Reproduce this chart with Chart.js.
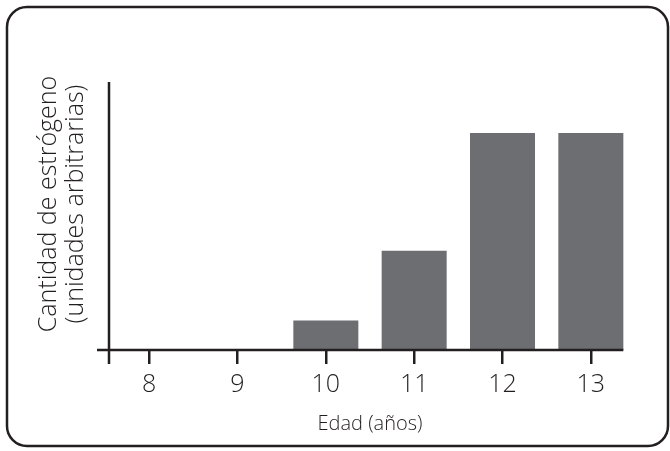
<!DOCTYPE html>
<html>
<head>
<meta charset="utf-8">
<script src="https://cdn.jsdelivr.net/npm/chart.js@4"></script>
<style>
html,body{margin:0;padding:0;background:#fff;}
#wrap{width:670px;height:451px;}
</style>
</head>
<body>
<div id="wrap"><canvas id="c"></canvas></div>
<script>
const edades=["8","9","10","11","12","13"];
const estrogeno=[0,0,11,37,81,81];
const yLabel=["Cantidad de estrógeno","(unidades arbitrarias)"];
const xLabel="Edad (años)";

const ink="#231f20";
const barColor="#6d6e71";

// frame, axis lines and rotated y title
const decor={
id:"decor",
afterDraw(chart){
const ctx=chart.ctx;
const a=chart.chartArea;
const meta=chart.getDatasetMeta(0);
const last=meta.data[meta.data.length-1];
ctx.save();
ctx.strokeStyle=ink;
ctx.lineWidth=2.5;
ctx.beginPath();
ctx.roundRect(7,7,661,439,20);
ctx.stroke();

const yx=a.left+4;
ctx.beginPath();
ctx.moveTo(yx,a.top);
ctx.lineTo(yx,a.bottom+14);
ctx.moveTo(yx-12,a.bottom);
ctx.lineTo(last.x+last.width/2,a.bottom);
ctx.stroke();

ctx.fillStyle=ink;
ctx.font="300 25px 'Open Sans'";
ctx.textAlign="center";
ctx.textBaseline="middle";
ctx.translate(63,204);
ctx.rotate(-Math.PI/2);
ctx.fillText(yLabel[0],0,-14);
ctx.fillText(yLabel[1],0,13);
ctx.restore();
}
};

new Chart(document.getElementById("c"),{
type:"bar",
data:{
labels:edades,
datasets:[{
data:estrogeno,
backgroundColor:barColor,
borderWidth:0,
barPercentage:0.736,
categoryPercentage:1
}]
},
options:{
responsive:true,
maintainAspectRatio:false,
animation:false,
layout:{padding:{left:105,right:35,top:82,bottom:11}},
plugins:{legend:{display:false},tooltip:{enabled:false}},
scales:{
x:{
offset:true,
border:{display:false},
grid:{display:true,drawOnChartArea:false,offset:false,tickLength:14,color:ink,lineWidth:2.5},
ticks:{color:ink,padding:6,font:{family:"'Open Sans'",size:25,weight:300}},
title:{display:true,text:xLabel,color:ink,padding:{top:6,bottom:4},font:{family:"'Open Sans'",size:20,weight:300}}
},
y:{display:false,min:0,max:100}
}
},
plugins:[decor]
});
</script>
</body>
</html>
